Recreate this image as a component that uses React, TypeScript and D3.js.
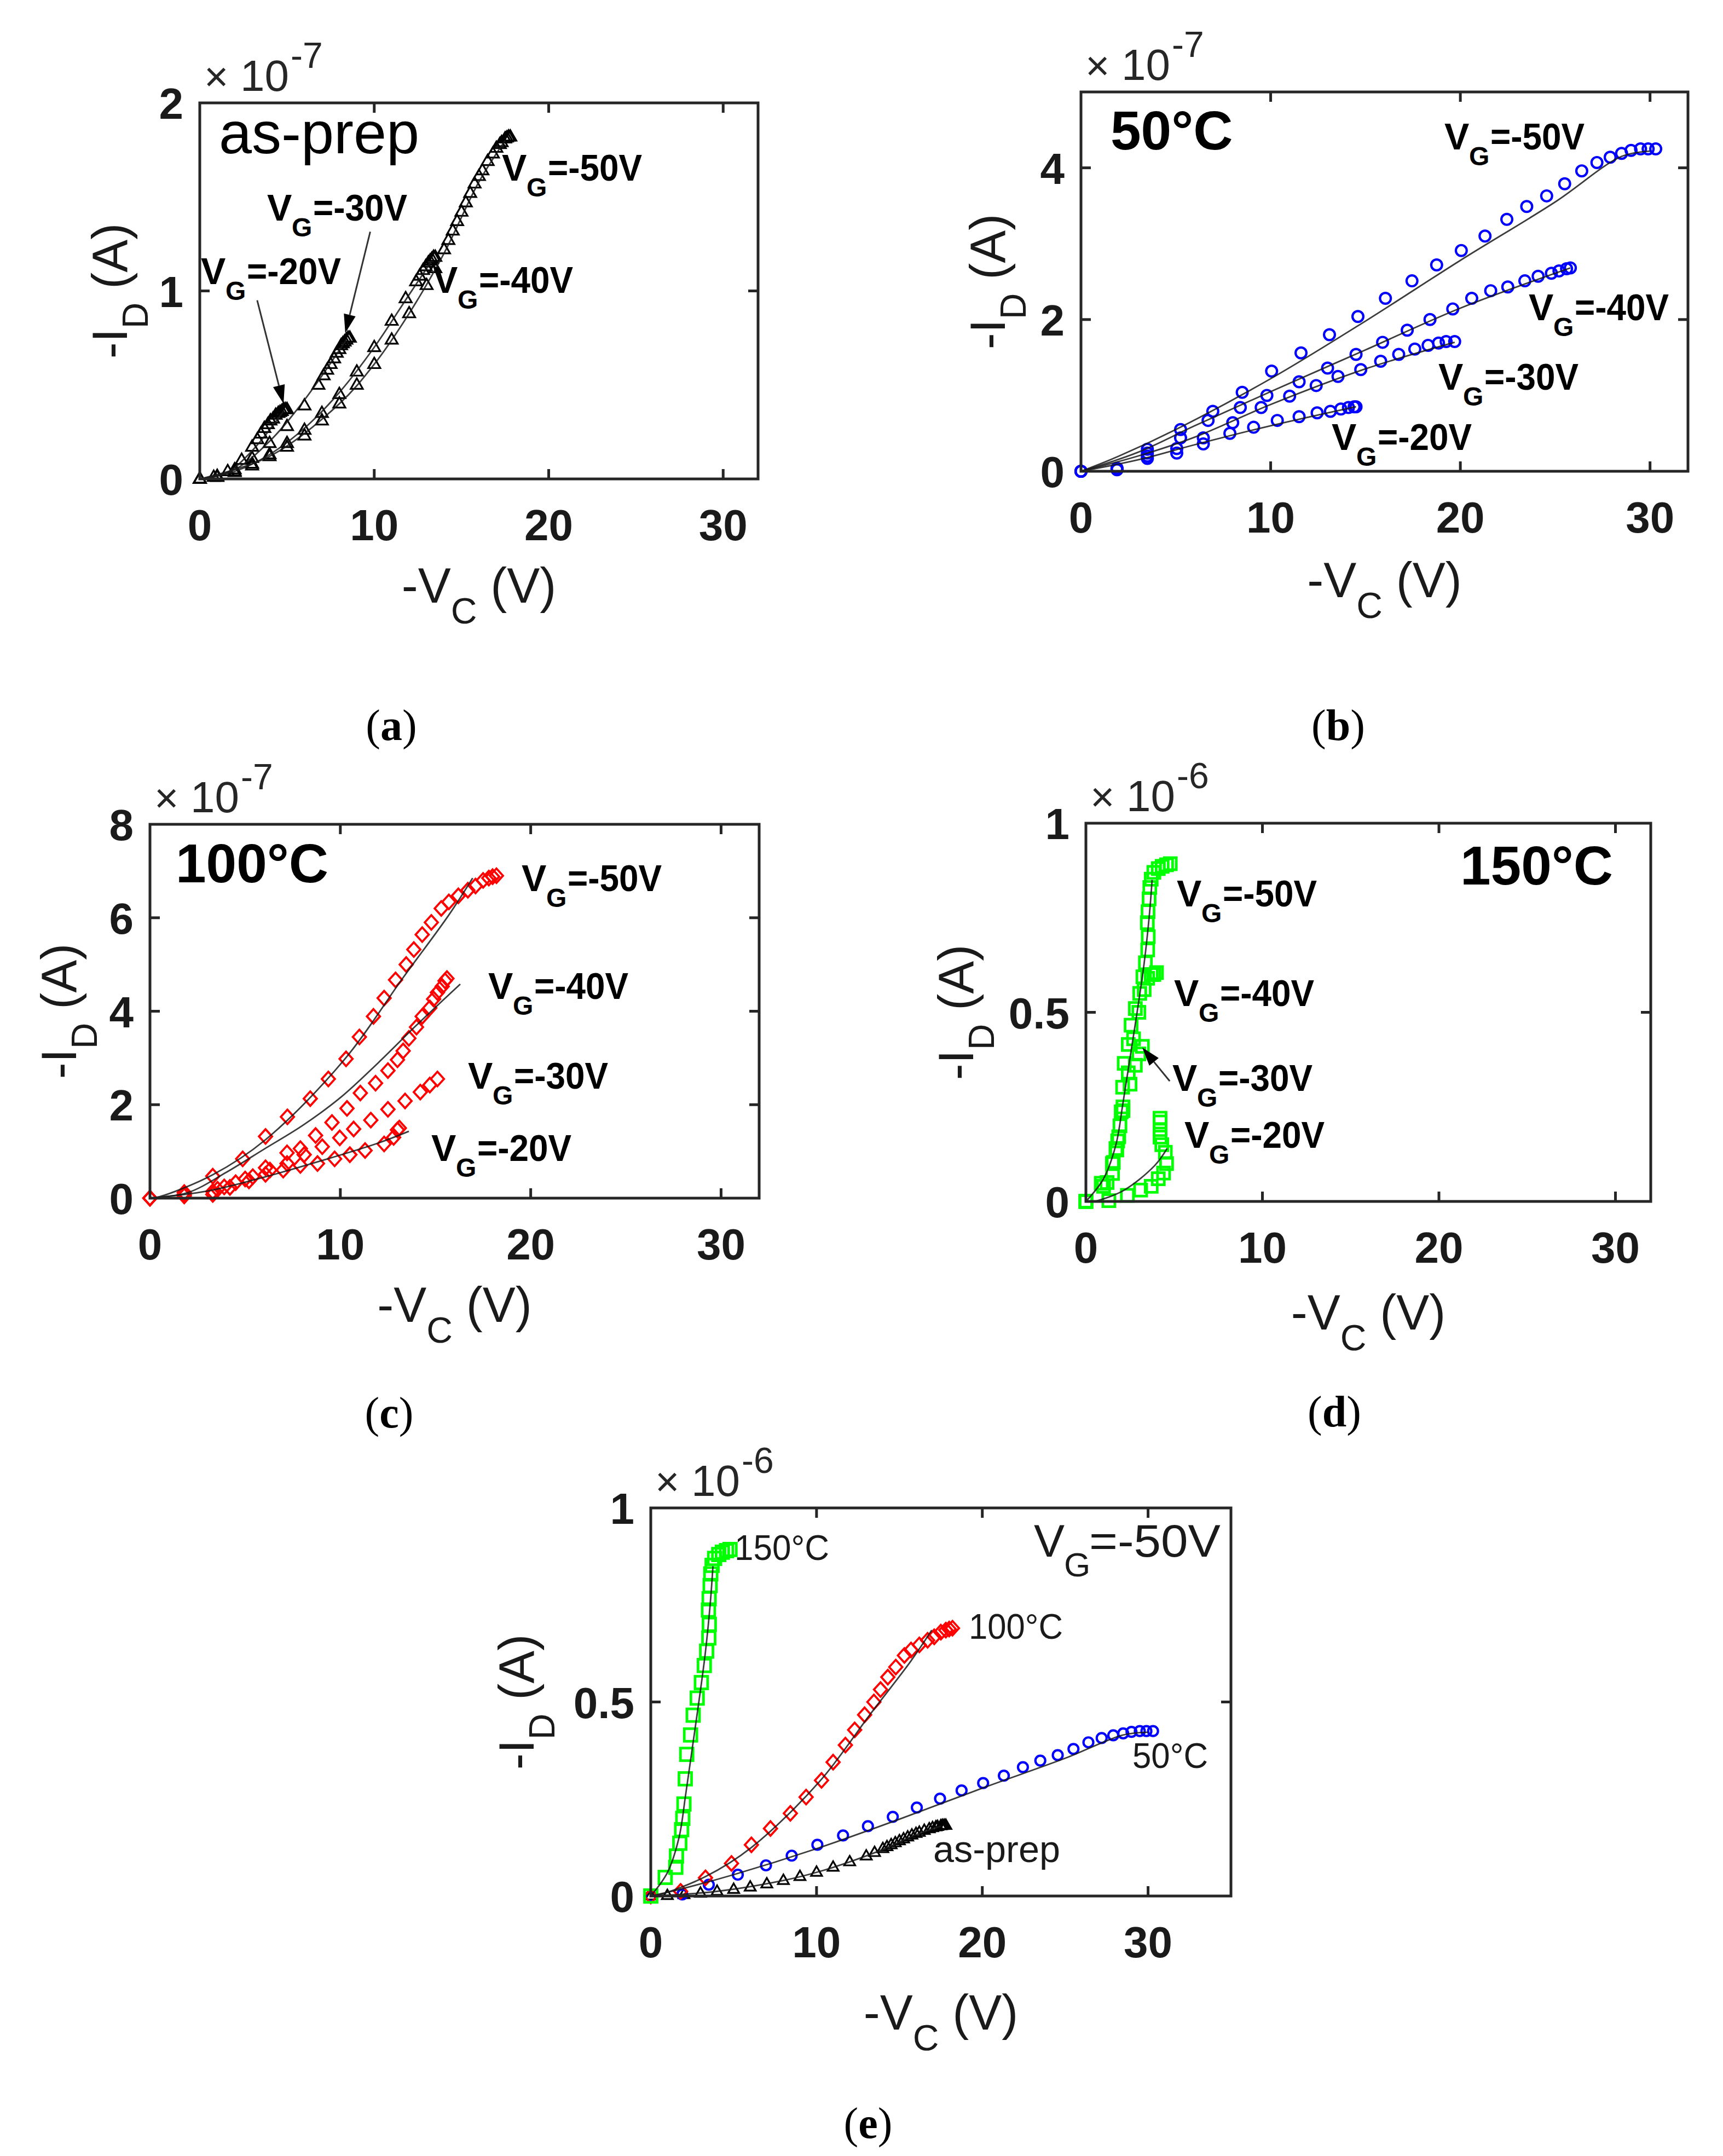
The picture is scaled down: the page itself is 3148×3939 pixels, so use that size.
import React from 'react';
import * as d3 from 'd3';

type Pt = [number, number];

// ---- data ----
const xTicks = [0, 10, 20, 30];
const gateLabels = ['-20', '-30', '-40', '-50'];

// (a) as-prep, units of 1e-7 A
const asPrep20: Pt[] = [[0, 0], [0.8, 0.01], [1.6, 0.04], [2.4, 0.1], [3.0, 0.17], [3.3, 0.21], [3.5, 0.24], [3.7, 0.27], [3.9, 0.29], [4.05, 0.31], [4.2, 0.32], [4.35, 0.34], [4.5, 0.35], [4.6, 0.355], [4.7, 0.36], [4.8, 0.37], [4.9, 0.37], [5.0, 0.37]];
const asPrep30: Pt[] = [[0, 0], [1, 0.015], [2, 0.05], [3, 0.11], [4, 0.19], [5, 0.28], [6, 0.39], [6.8, 0.5], [7.1, 0.55], [7.3, 0.58], [7.5, 0.61], [7.7, 0.64], [7.85, 0.67], [8.0, 0.69], [8.1, 0.71], [8.2, 0.72], [8.3, 0.73], [8.4, 0.74], [8.5, 0.75], [8.6, 0.75]];
const asPrep40: Pt[] = [[0, 0], [1, 0.01], [2, 0.04], [3, 0.08], [4, 0.13], [5, 0.19], [6, 0.26], [7, 0.35], [8, 0.45], [9, 0.57], [10, 0.7], [11, 0.84], [11.8, 0.96], [12.4, 1.05], [12.6, 1.08], [12.8, 1.11], [12.95, 1.13], [13.1, 1.15], [13.2, 1.16], [13.3, 1.17], [13.4, 1.18], [13.5, 1.18]];
const asPrep50: Pt[] = [[0, 0], [1, 0.01], [2, 0.035], [3, 0.07], [4, 0.12], [5, 0.17], [6, 0.23], [7, 0.31], [8, 0.4], [9, 0.5], [10, 0.61], [11, 0.74], [12, 0.88], [13, 1.03], [13.5, 1.12], [14, 1.22], [14.25, 1.27], [14.5, 1.32], [14.75, 1.37], [15, 1.42], [15.25, 1.47], [15.5, 1.52], [15.75, 1.57], [16, 1.61], [16.2, 1.64], [16.5, 1.69], [16.8, 1.73], [17, 1.76], [17.2, 1.78], [17.3, 1.79], [17.5, 1.81], [17.6, 1.815], [17.7, 1.82], [17.8, 1.82]];
const fitA20: Pt[] = [[0, 0], [1.5, 0.03], [3, 0.15], [4.8, 0.36]];
const fitA30: Pt[] = [[0, 0], [2, 0.05], [4, 0.2], [6, 0.42], [8.4, 0.74]];
const fitA40: Pt[] = [[0, 0], [2, 0.04], [4, 0.13], [6, 0.27], [8, 0.46], [10, 0.7], [12, 0.98], [13.3, 1.16]];
const fitA50: Pt[] = [[0, 0], [4, 0.12], [8, 0.4], [10, 0.61], [12, 0.88], [14, 1.2], [16, 1.58], [17.5, 1.8]];

// (b) 50 C, units of 1e-7 A
const t50Vg20: Pt[] = [[0, 0], [1.9, 0.02], [3.5, 0.17], [5.05, 0.24], [6.45, 0.36], [7.85, 0.5], [9.1, 0.58], [10.35, 0.67], [11.5, 0.72], [12.45, 0.77], [13.15, 0.79], [13.7, 0.82], [14.1, 0.84], [14.4, 0.85], [14.5, 0.85]];
const t50Vg30: Pt[] = [[0, 0], [1.9, 0.03], [3.5, 0.2], [5.05, 0.3], [6.45, 0.44], [8.0, 0.64], [9.5, 0.84], [11.0, 0.99], [12.4, 1.13], [13.55, 1.25], [14.75, 1.34], [15.8, 1.45], [16.75, 1.54], [17.6, 1.61], [18.3, 1.66], [18.85, 1.69], [19.25, 1.71], [19.7, 1.71]];
const t50Vg40: Pt[] = [[0, 0], [1.9, 0.03], [3.5, 0.24], [5.25, 0.44], [6.7, 0.67], [8.4, 0.84], [9.8, 1.0], [11.5, 1.18], [13.0, 1.36], [14.5, 1.54], [15.9, 1.7], [17.2, 1.86], [18.4, 2.0], [19.6, 2.14], [20.6, 2.28], [21.6, 2.38], [22.5, 2.43], [23.4, 2.51], [24.1, 2.57], [24.8, 2.61], [25.2, 2.64], [25.6, 2.67], [25.8, 2.68]];
const t50Vg50: Pt[] = [[0, 0], [1.9, 0.04], [3.5, 0.29], [5.25, 0.55], [6.95, 0.79], [8.5, 1.04], [10.05, 1.32], [11.6, 1.56], [13.1, 1.8], [14.6, 2.04], [16.05, 2.28], [17.45, 2.51], [18.75, 2.72], [20.05, 2.91], [21.3, 3.1], [22.45, 3.32], [23.5, 3.49], [24.55, 3.63], [25.5, 3.79], [26.4, 3.96], [27.2, 4.07], [27.9, 4.14], [28.5, 4.19], [29.0, 4.23], [29.5, 4.25], [29.9, 4.25], [30.3, 4.25]];
const fitB20: Pt[] = [[0, 0], [3, 0.15], [6, 0.35], [10, 0.6], [14.5, 0.85]];
const fitB30: Pt[] = [[0, 0], [3, 0.2], [6, 0.45], [10, 0.88], [15, 1.35], [19.7, 1.7]];
const fitB40: Pt[] = [[0, 0], [3, 0.25], [6, 0.6], [10, 1.05], [15, 1.6], [20, 2.15], [25.8, 2.68]];
const fitB50: Pt[] = [[0, 0], [2, 0.2], [5, 0.55], [10, 1.22], [15, 1.98], [20, 2.78], [25, 3.55], [28.5, 4.15], [30, 4.22]];

// (c) 100 C, units of 1e-7 A
const t100Vg20: Pt[] = [[0, 0], [1.8, 0.05], [3.3, 0.08], [4.2, 0.23], [5.2, 0.37], [6.07, 0.51], [7.0, 0.6], [7.9, 0.7], [8.8, 0.74], [9.7, 0.84], [10.5, 0.93], [11.3, 1.02], [12.3, 1.16], [12.8, 1.3], [13.0, 1.46], [13.1, 1.5]];
const t100Vg30: Pt[] = [[0, 0], [1.8, 0.08], [3.55, 0.19], [4.5, 0.33], [5.4, 0.46], [6.3, 0.6], [7.2, 0.74], [8.1, 0.93], [9.05, 1.1], [9.97, 1.29], [10.7, 1.48], [11.6, 1.67], [12.5, 1.9], [13.4, 2.08], [14.2, 2.27], [14.7, 2.42], [15.1, 2.55]];
const t100Vg40: Pt[] = [[0, 0], [1.8, 0.05], [3.3, 0.14], [3.9, 0.24], [5.0, 0.41], [6.07, 0.65], [7.2, 0.97], [7.9, 1.06], [8.7, 1.34], [9.56, 1.62], [10.35, 1.92], [11.05, 2.25], [11.85, 2.46], [12.5, 2.73], [13.0, 2.96], [13.3, 3.15], [13.6, 3.42], [14.0, 3.66], [14.3, 3.89], [14.7, 4.07], [14.9, 4.26], [15.1, 4.4], [15.35, 4.53], [15.5, 4.65], [15.6, 4.7]];
const t100Vg50: Pt[] = [[0, 0], [1.8, 0.12], [3.3, 0.47], [4.87, 0.84], [6.07, 1.32], [7.22, 1.74], [8.42, 2.13], [9.37, 2.55], [10.3, 2.98], [11.0, 3.45], [11.74, 3.89], [12.3, 4.28], [12.9, 4.67], [13.46, 5.0], [13.86, 5.32], [14.3, 5.64], [14.78, 5.9], [15.3, 6.2], [15.7, 6.34], [16.2, 6.47], [16.7, 6.59], [17.1, 6.68], [17.5, 6.8], [17.8, 6.85], [18.0, 6.88], [18.2, 6.9]];
const fitC20: Pt[] = [[0, 0], [3, 0.15], [6, 0.45], [9, 0.8], [12, 1.18], [13.6, 1.43]];
const fitC40: Pt[] = [[0, 0], [2, 0.12], [4, 0.55], [6, 1.05], [8, 1.55], [10, 2.15], [12, 2.9], [14, 3.7], [16.3, 4.58]];
const fitC50: Pt[] = [[0, 0], [0.5, 0.03], [3.3, 0.5], [6.07, 1.25], [10.2, 2.96], [13.3, 4.72], [15.7, 6.06], [16.95, 6.85]];

// (d) 150 C, units of 1e-6 A
const t150Vg20: Pt[] = [[0, 0], [1.3, 0.002], [2.35, 0.016], [3.1, 0.03], [3.7, 0.04], [4.1, 0.06], [4.4, 0.075], [4.57, 0.1], [4.5, 0.13], [4.3, 0.15], [4.2, 0.17], [4.2, 0.19], [4.2, 0.21], [4.2, 0.22]];
const t150Vg30: Pt[] = [[0, 0], [1.2, 0.05], [1.7, 0.14], [2.1, 0.24], [2.5, 0.31], [2.8, 0.36], [3.0, 0.39], [3.2, 0.41]];
const t150Vg40: Pt[] = [[0, 0], [1.0, 0.04], [1.5, 0.1], [1.8, 0.16], [2.1, 0.25], [2.4, 0.34], [2.7, 0.43], [3.0, 0.5], [3.3, 0.56], [3.5, 0.59], [3.7, 0.6], [3.85, 0.6], [4.0, 0.605]];
const t150Vg50: Pt[] = [[0, 0], [0.87, 0.048], [1.51, 0.074], [1.55, 0.103], [1.75, 0.136], [1.86, 0.171], [1.93, 0.2], [2.0, 0.237], [2.08, 0.302], [2.17, 0.365], [2.4, 0.415], [2.56, 0.466], [2.8, 0.51], [3.05, 0.55], [3.23, 0.594], [3.37, 0.631], [3.5, 0.665], [3.53, 0.7], [3.48, 0.737], [3.52, 0.766], [3.58, 0.8], [3.62, 0.83], [3.7, 0.852], [3.85, 0.87], [4.1, 0.88], [4.32, 0.886], [4.57, 0.89], [4.78, 0.893]];
const fitD20: Pt[] = [[0.5, 0], [2.1, 0.028], [3.9, 0.095], [4.6, 0.14]];
const fitD50: Pt[] = [[0, 0], [1, 0.06], [1.7, 0.15], [2.1, 0.26], [2.5, 0.38], [2.9, 0.5], [3.3, 0.63], [3.6, 0.76], [3.75, 0.85]];

// ---- layout ----
const W = 3148;
const H = 3939;
const SANS = '"Liberation Sans", Arial, Helvetica, sans-serif';
const SERIF = '"Liberation Serif", "Times New Roman", serif';
const AXIS = '#262626';

type Kind = 'tri' | 'circle' | 'diamond' | 'square';
interface Series { pts: Pt[]; kind: Kind; color: string; k?: number; size?: number }
interface Fit { pts: Pt[]; k?: number }
interface Arrow { from: Pt; to: Pt }
interface PanelCfg {
  left: number; top: number; right: number; bottom: number;
  xMax: number; yMax: number; yTicks: number[]; exp: string; ylabDx: number; xlabDy: number;
  series: Series[]; fits: Fit[]; arrows?: Arrow[];
}

const Marker: React.FC<{ kind: Kind; x: number; y: number; color: string; s: number }> = ({ kind, x, y, color, s }) => {
  if (kind === 'circle') return <circle cx={x} cy={y} r={s * 0.45} fill="none" stroke={color} strokeWidth={4.2} />;
  if (kind === 'square') return <rect x={x - s / 2} y={y - s / 2} width={s} height={s} fill="none" stroke={color} strokeWidth={4.8} />;
  if (kind === 'diamond')
    return <path d={`M${x},${y - s * 0.55}L${x + s * 0.5},${y}L${x},${y + s * 0.55}L${x - s * 0.5},${y}Z`} fill="none" stroke={color} strokeWidth={3.8} />;
  return <path d={`M${x},${y - s * 0.55}L${x + s * 0.5},${y + s * 0.32}L${x - s * 0.5},${y + s * 0.32}Z`} fill="none" stroke={color} strokeWidth={3.2} />;
};

const Panel: React.FC<{ cfg: PanelCfg }> = ({ cfg }) => {
  const x = d3.scaleLinear().domain([0, cfg.xMax]).range([cfg.left, cfg.right]);
  const y = d3.scaleLinear().domain([0, cfg.yMax]).range([cfg.bottom, cfg.top]);
  const line = (k: number) =>
    d3.line<Pt>().x(d => x(d[0])).y(d => y(d[1] * k)).curve(d3.curveCatmullRom.alpha(0.5));
  const tl = 18;
  const cx = (cfg.left + cfg.right) / 2;
  const cy = (cfg.top + cfg.bottom) / 2;
  return (
    <g>
      {cfg.series.map((s, i) => (
        <g key={i}>
          {s.pts.map((p, j) => (
            <Marker key={j} kind={s.kind} x={x(p[0])} y={y(p[1] * (s.k ?? 1))} color={s.color} s={s.size ?? 22} />
          ))}
        </g>
      ))}
      {cfg.fits.map((f, i) => (
        <path key={i} d={line(f.k ?? 1)(f.pts) || ''} fill="none" stroke="#1a1a1a" strokeWidth={2.8} opacity={0.85} />
      ))}
      {(cfg.arrows || []).map((a, i) => {
        const x1 = x(a.from[0]), y1 = y(a.from[1]), x2 = x(a.to[0]), y2 = y(a.to[1]);
        const ang = Math.atan2(y2 - y1, x2 - x1);
        const hl = 34, hw = 11;
        const bx = x2 - hl * Math.cos(ang), by = y2 - hl * Math.sin(ang);
        const px = -Math.sin(ang) * hw, py = Math.cos(ang) * hw;
        return (
          <g key={i}>
            <line x1={x1} y1={y1} x2={bx} y2={by} stroke="#333" strokeWidth={3} />
            <path d={`M${x2},${y2}L${bx + px},${by + py}L${bx - px},${by - py}Z`} fill="#000" />
          </g>
        );
      })}
      {/* box and ticks */}
      <rect x={cfg.left} y={cfg.top} width={cfg.right - cfg.left} height={cfg.bottom - cfg.top} fill="none" stroke={AXIS} strokeWidth={5} />
      {xTicks.filter(t => t > 0 && t < cfg.xMax).map(t => (
        <g key={t}>
          <line x1={x(t)} x2={x(t)} y1={cfg.bottom} y2={cfg.bottom - tl} stroke={AXIS} strokeWidth={5} />
          <line x1={x(t)} x2={x(t)} y1={cfg.top} y2={cfg.top + tl} stroke={AXIS} strokeWidth={5} />
        </g>
      ))}
      {cfg.yTicks.filter(t => t > 0 && t < cfg.yMax).map(t => (
        <g key={t}>
          <line x1={cfg.left} x2={cfg.left + tl} y1={y(t)} y2={y(t)} stroke={AXIS} strokeWidth={5} />
          <line x1={cfg.right} x2={cfg.right - tl} y1={y(t)} y2={y(t)} stroke={AXIS} strokeWidth={5} />
        </g>
      ))}
      <g fontFamily={SANS} fontWeight="bold" fontSize={80} fill="#1a1a1a">
        {xTicks.map(t => (
          <text key={t} x={x(t)} y={cfg.bottom + 112} textAnchor="middle">{t}</text>
        ))}
        {cfg.yTicks.map(t => (
          <text key={t} x={cfg.left - 30} y={y(t) + 29} textAnchor="end">{String(t)}</text>
        ))}
      </g>
      {/* multiplier */}
      <g fontFamily={SANS} fill={AXIS}>
        <text x={cfg.left + 8} y={cfg.top - 22} fontSize={76}>×</text>
        <text x={cfg.left + 74} y={cfg.top - 22} fontSize={80}>10</text>
        <text x={cfg.left + 166} y={cfg.top - 64} fontSize={66}>{cfg.exp}</text>
      </g>
      {/* axis labels */}
      <text x={cx} y={cfg.bottom + cfg.xlabDy} textAnchor="middle" fontFamily={SANS} fontSize={90} fill="#1a1a1a">
        -V<tspan dy={38} fontSize={66}>C</tspan><tspan dy={-38}> (V)</tspan>
      </text>
      <g transform={`translate(${cfg.left + cfg.ylabDx},${cy}) rotate(-90)`}>
        <text x={0} y={32} textAnchor="middle" fontFamily={SANS} fontSize={90} fill="#1a1a1a">
          -I<tspan dy={38} fontSize={66}>D</tspan><tspan dy={-38}> (A)</tspan>
        </text>
      </g>
    </g>
  );
};

const VgLabel: React.FC<{ x: number; y: number; v: string }> = ({ x, y, v }) => (
  <g fontFamily={SANS} fontWeight="bold" fill="#000">
    <text x={x} y={y} fontSize={68}>V</text>
    <text x={x + 45} y={y + 29} fontSize={48}>G</text>
    <text x={x + 84} y={y} fontSize={68} textLength={172} lengthAdjust="spacingAndGlyphs">={v}V</text>
  </g>
);

const Caption: React.FC<{ x: number; y: number; c: string }> = ({ x, y, c }) => (
  <text x={x} y={y} textAnchor="middle" fontFamily={SERIF} fontSize={80} fill="#000">
    (<tspan fontWeight="bold">{c}</tspan>)
  </text>
);

const panelA: PanelCfg = {
  left: 365, top: 188, right: 1385, bottom: 875, xMax: 32, yMax: 2, yTicks: [0, 1, 2], exp: '-7', ylabDx: -165, xlabDy: 226,
  series: [asPrep20, asPrep30, asPrep40, asPrep50].map(pts => ({ pts, kind: 'tri' as Kind, color: '#000', size: 22 })),
  fits: [fitA20, fitA30, fitA40, fitA50].map(pts => ({ pts })),
  arrows: [{ from: [3.29, 0.95], to: [4.8, 0.4] }, { from: [9.77, 1.315], to: [8.34, 0.776] }],
};
const panelB: PanelCfg = {
  left: 1975, top: 168, right: 3084, bottom: 861, xMax: 32, yMax: 5, yTicks: [0, 2, 4], exp: '-7', ylabDx: -171, xlabDy: 230,
  series: [t50Vg20, t50Vg30, t50Vg40, t50Vg50].map(pts => ({ pts, kind: 'circle' as Kind, color: '#0000ff', size: 22 })),
  fits: [fitB20, fitB30, fitB40, fitB50].map(pts => ({ pts })),
};
const panelC: PanelCfg = {
  left: 274, top: 1506, right: 1387, bottom: 2189, xMax: 32, yMax: 8, yTicks: [0, 2, 4, 6, 8], exp: '-7', ylabDx: -167, xlabDy: 226,
  series: [t100Vg20, t100Vg30, t100Vg40, t100Vg50].map(pts => ({ pts, kind: 'diamond' as Kind, color: '#ff0000', size: 24 })),
  fits: [fitC20, fitC40, fitC50].map(pts => ({ pts })),
};
const panelD: PanelCfg = {
  left: 1984, top: 1504, right: 3016, bottom: 2195, xMax: 32, yMax: 1, yTicks: [0, 0.5, 1], exp: '-6', ylabDx: -238, xlabDy: 234,
  series: [t150Vg20, t150Vg30, t150Vg40, t150Vg50].map(pts => ({ pts, kind: 'square' as Kind, color: '#00ff00', size: 22 })),
  fits: [fitD20, fitD50].map(pts => ({ pts })),
  arrows: [{ from: [4.75, 0.318], to: [3.19, 0.407] }],
};
// (e) compares V_G = -50 V across treatments; 1e-7 data converted to 1e-6
const panelE: PanelCfg = {
  left: 1189, top: 2755, right: 2249, bottom: 3464, xMax: 35, yMax: 1, yTicks: [0, 0.5, 1], exp: '-6', ylabDx: -246, xlabDy: 244,
  series: [
    { pts: asPrep50, kind: 'tri', color: '#000', k: 0.1, size: 20 },
    { pts: t50Vg50, kind: 'circle', color: '#0000ff', k: 0.1, size: 20 },
    { pts: t100Vg50, kind: 'diamond', color: '#ff0000', k: 0.1, size: 24 },
    { pts: t150Vg50, kind: 'square', color: '#00ff00', size: 23 },
  ],
  fits: [{ pts: fitA50, k: 0.1 }, { pts: fitB50, k: 0.1 }, { pts: fitC50, k: 0.1 }, { pts: fitD50 }],
};

const App: React.FC = () => (
  <svg width={W} height={H} viewBox={`0 0 ${W} ${H}`} style={{ position: 'absolute', left: 0, top: 0, background: '#fff' }}>
    <rect width={W} height={H} fill="#fff" />
    <Panel cfg={panelA} />
    <Panel cfg={panelB} />
    <Panel cfg={panelC} />
    <Panel cfg={panelD} />
    <Panel cfg={panelE} />

    {/* (a) */}
    <text x={400} y={280} fontFamily={SANS} fontSize={108} fill="#000">as-prep</text>
    <VgLabel x={367} y={519} v={gateLabels[0]} />
    <VgLabel x={488} y={403} v={gateLabels[1]} />
    <VgLabel x={791} y={535} v={gateLabels[2]} />
    <VgLabel x={917} y={330} v={gateLabels[3]} />

    {/* (b) */}
    <text x={2029} y={273} fontFamily={SANS} fontWeight="bold" fontSize={100} fill="#000">50°C</text>
    <VgLabel x={2433} y={822} v={gateLabels[0]} />
    <VgLabel x={2628} y={712} v={gateLabels[1]} />
    <VgLabel x={2793} y={585} v={gateLabels[2]} />
    <VgLabel x={2639} y={273} v={gateLabels[3]} />

    {/* (c) */}
    <text x={321} y={1612} fontFamily={SANS} fontWeight="bold" fontSize={100} fill="#000">100°C</text>
    <VgLabel x={788} y={2121} v={gateLabels[0]} />
    <VgLabel x={855} y={1989} v={gateLabels[1]} />
    <VgLabel x={892} y={1825} v={gateLabels[2]} />
    <VgLabel x={953} y={1628} v={gateLabels[3]} />

    {/* (d) */}
    <text x={2668} y={1616} fontFamily={SANS} fontWeight="bold" fontSize={100} fill="#000">150°C</text>
    <VgLabel x={2164} y={2097} v={gateLabels[0]} />
    <VgLabel x={2142} y={1993} v={gateLabels[1]} />
    <VgLabel x={2145} y={1838} v={gateLabels[2]} />
    <VgLabel x={2150} y={1656} v={gateLabels[3]} />

    {/* (e) */}
    <g fontFamily={SANS} fill="#1a1a1a">
      <text x={1342} y={2850} fontSize={64} textLength={173} lengthAdjust="spacingAndGlyphs">150°C</text>
      <text x={1770} y={2994} fontSize={64} textLength={172} lengthAdjust="spacingAndGlyphs">100°C</text>
      <text x={2069} y={3230} fontSize={64} textLength={138} lengthAdjust="spacingAndGlyphs">50°C</text>
      <text x={1705} y={3402} fontSize={68} textLength={232} lengthAdjust="spacingAndGlyphs">as-prep</text>
      <text x={1889} y={2844} fontSize={84}>V</text>
      <text x={1944} y={2880} fontSize={62}>G</text>
      <text x={1990} y={2844} fontSize={84} textLength={240} lengthAdjust="spacingAndGlyphs">=-50V</text>
    </g>

    <Caption x={715} y={1352} c="a" />
    <Caption x={2445} y={1352} c="b" />
    <Caption x={711} y={2608} c="c" />
    <Caption x={2438} y={2606} c="d" />
    <Caption x={1586} y={3906} c="e" />
  </svg>
);

export default App;
